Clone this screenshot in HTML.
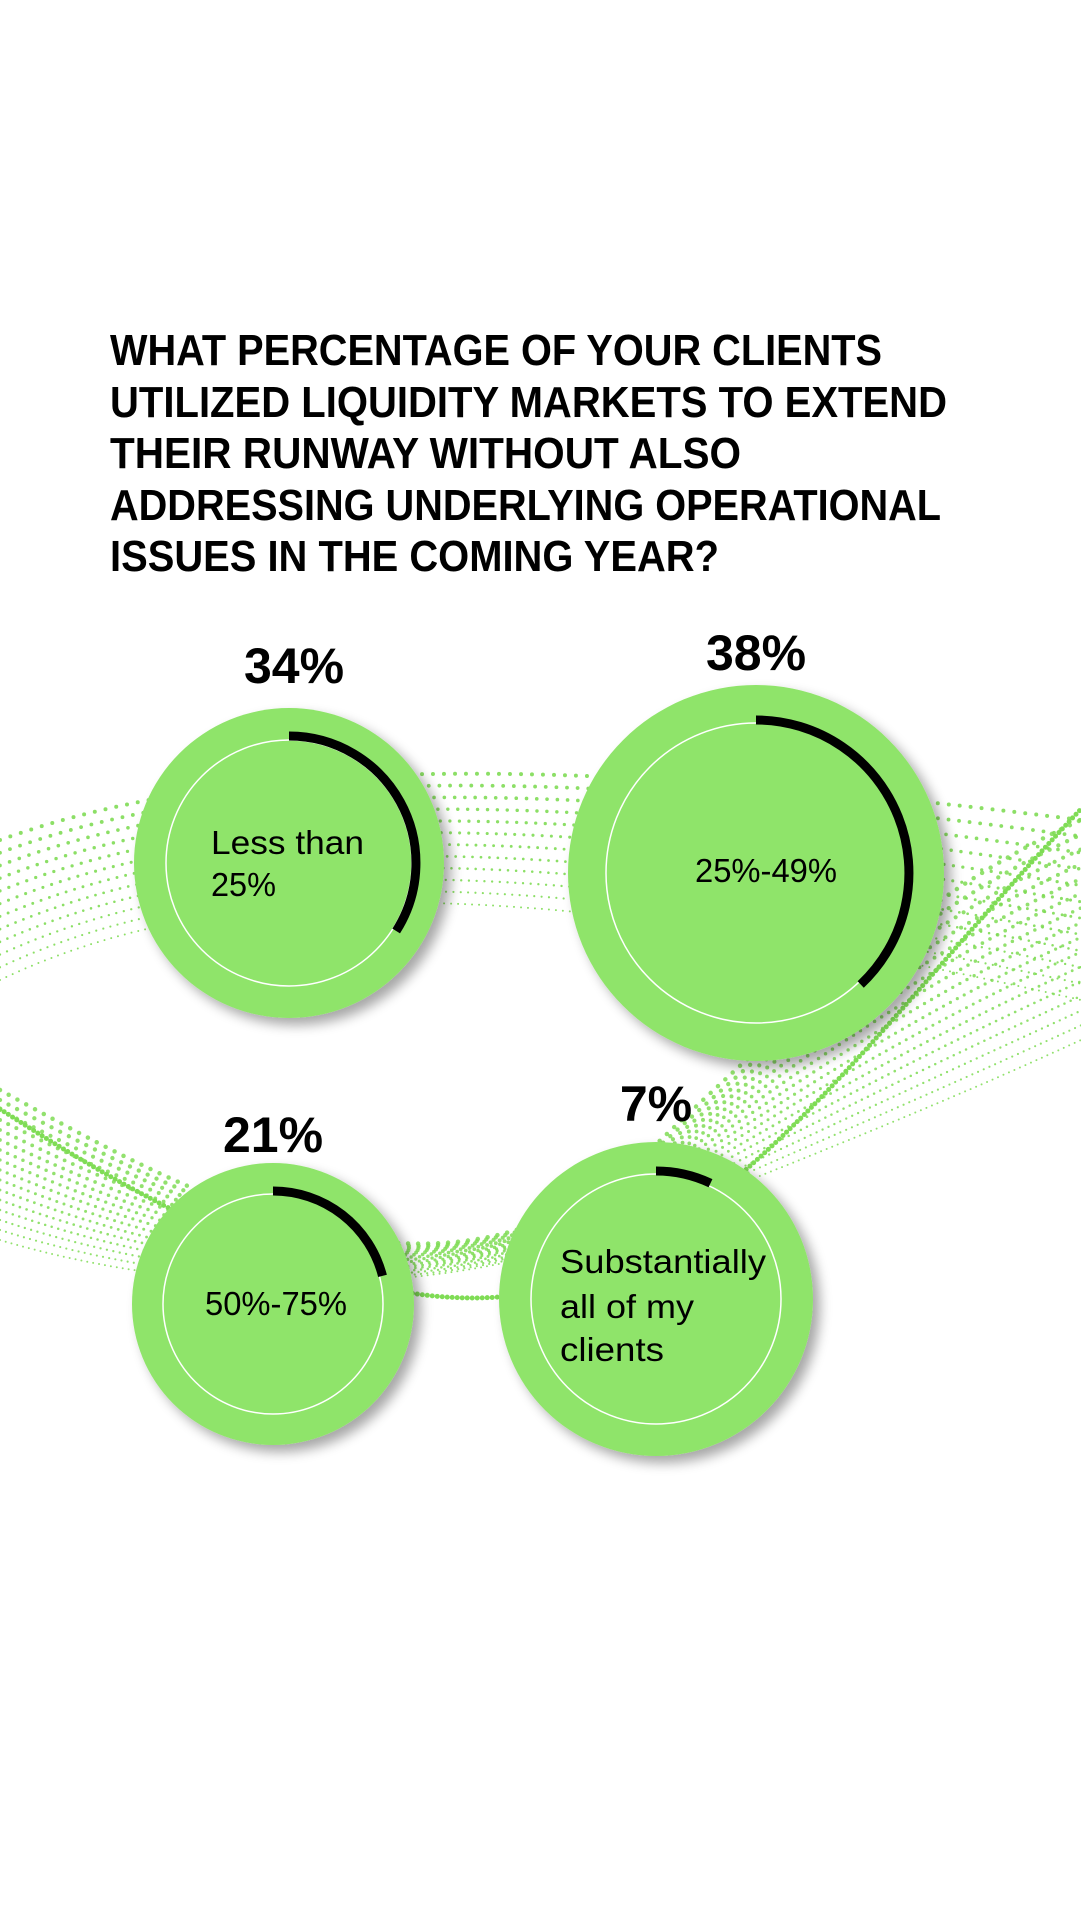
<!DOCTYPE html>
<html><head><meta charset="utf-8"><style>
html,body{margin:0;padding:0;background:#fff}
svg{display:block}
</style></head><body>
<svg id="s" width="1081" height="1921" viewBox="0 0 1081 1921" xmlns="http://www.w3.org/2000/svg">
<defs>
<filter id="sh" x="-20%" y="-20%" width="150%" height="150%">
<feGaussianBlur in="SourceAlpha" stdDeviation="6"/>
<feOffset dx="7" dy="7"/>
<feComponentTransfer><feFuncA type="linear" slope="0.35"/></feComponentTransfer>
<feMerge><feMergeNode/><feMergeNode in="SourceGraphic"/></feMerge>
</filter>
</defs>
<g id="waves" fill="none" stroke="#7fdc55" stroke-linecap="round"></g>

<g font-family="'Liberation Sans', Arial, sans-serif" font-weight="bold" font-size="44" fill="#000">
<text x="110" y="365" textLength="772" lengthAdjust="spacingAndGlyphs">WHAT PERCENTAGE OF YOUR CLIENTS</text>
<text x="110" y="417" textLength="837" lengthAdjust="spacingAndGlyphs">UTILIZED LIQUIDITY MARKETS TO EXTEND</text>
<text x="110" y="468" textLength="631" lengthAdjust="spacingAndGlyphs">THEIR RUNWAY WITHOUT ALSO</text>
<text x="110" y="520" textLength="831" lengthAdjust="spacingAndGlyphs">ADDRESSING UNDERLYING OPERATIONAL</text>
<text x="110" y="571" textLength="609" lengthAdjust="spacingAndGlyphs">ISSUES IN THE COMING YEAR?</text>
</g>

<g filter="url(#sh)" fill="#8fe46a">
<circle cx="289" cy="863" r="155"/>
<circle cx="756" cy="873" r="188"/>
<circle cx="273" cy="1304" r="141"/>
<circle cx="656" cy="1299" r="157"/>
</g>
<g fill="none" stroke="#fff" stroke-width="1.5">
<circle cx="289" cy="863" r="123"/>
<circle cx="756" cy="873" r="150"/>
<circle cx="273" cy="1304" r="110"/>
<circle cx="656" cy="1299" r="125"/>
</g>
<g fill="none" stroke="#000" stroke-width="9">
<path d="M289 736 A127 127 0 0 1 396.2 931"/>
<path d="M756 720 A153 153 0 0 1 860.7 984.5"/>
<path d="M273 1191 A113 113 0 0 1 382.5 1275.9"/>
<path d="M656 1171 A128 128 0 0 1 710.5 1183.2"/>
</g>

<g font-family="'Liberation Sans', Arial, sans-serif" font-weight="bold" font-size="50" fill="#000" text-anchor="middle">
<text x="294" y="683">34%</text>
<text x="756" y="670">38%</text>
<text x="273" y="1152">21%</text>
<text x="656" y="1121">7%</text>
</g>
<g font-family="'Liberation Sans', Arial, sans-serif" font-size="33" fill="#000" lengthAdjust="spacingAndGlyphs">
<text x="211" y="854" textLength="153" lengthAdjust="spacingAndGlyphs">Less than</text>
<text x="211" y="896" textLength="65" lengthAdjust="spacingAndGlyphs">25%</text>
<text x="695" y="882" textLength="142" lengthAdjust="spacingAndGlyphs">25%-49%</text>
<text x="205" y="1315" textLength="142" lengthAdjust="spacingAndGlyphs">50%-75%</text>
<text x="560" y="1273" textLength="206" lengthAdjust="spacingAndGlyphs">Substantially</text>
<text x="560" y="1318" textLength="134" lengthAdjust="spacingAndGlyphs">all of my</text>
<text x="560" y="1361" textLength="104" lengthAdjust="spacingAndGlyphs">clients</text>
</g>
</svg>
<script>
(function(){
var g=document.getElementById('waves'),ns='http://www.w3.org/2000/svg';
var s=document.getElementById('s');
s.insertBefore(g,s.children[1]);
function add(d,w,gap,op){var p=document.createElementNS(ns,'path');p.setAttribute('d',d);p.setAttribute('stroke-width',w);p.setAttribute('stroke-dasharray','0 '+gap);p.setAttribute('opacity',op);g.appendChild(p);}
for(var i=0;i<12;i++){var k=i/11;
 var y0=840+k*140,y1=770+k*110,y2=800+k*130,y3=820+k*180;
 add('M0 '+y0+' C250 '+(y1-20)+' 600 '+(y2-40)+' 1081 '+y3,4-k*2,11-k*4,0.9);}
for(var i=0;i<16;i++){var k=i/15;
 var a=1090+k*150,b=1200+k*100,c=1340-k*40,d=820+k*220;
 add('M0 '+a+' C200 '+b+' 450 '+c+' 650 '+(1150+k*70)+' S950 '+(d+60)+' 1081 '+d,4.5-k*2.5,10-k*4,0.85);}
add('M0 1109 C160 1213 420 1360 600 1270 S900 1000 1081 809',5,5,1);
})();
</script>
</body></html>
